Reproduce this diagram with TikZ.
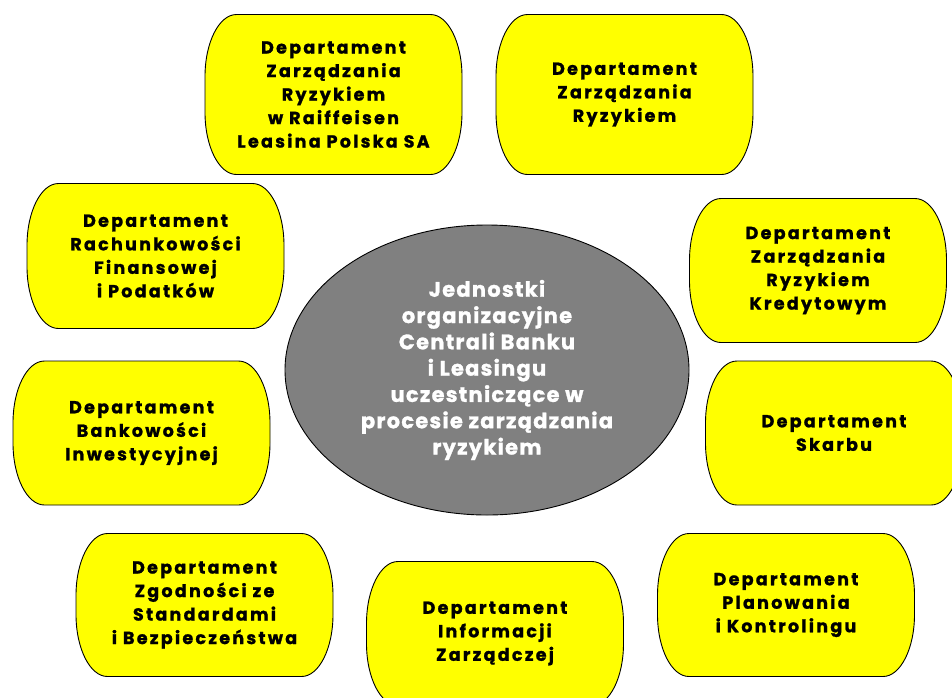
\documentclass[tikz,border=0pt]{standalone}
\usepackage{fontspec}
\setmainfont{Poppins}
\newfontfamily\deptfont[LetterSpace=13,BoldFeatures={FakeBold=1.2}]{Poppins}
\newfontfamily\hubfont[LetterSpace=6,BoldFeatures={FakeBold=1.2}]{Poppins}
\usetikzlibrary{shapes.geometric}
\definecolor{boxyellow}{HTML}{FFFF00}
\definecolor{centergray}{HTML}{808080}
\tikzset{
  dept/.style={
    minimum width=258pt, minimum height=#1, inner sep=0pt, align=center,
    font=\deptfont\bfseries\fontsize{17.5}{23.5}\selectfont, text=black,
    path picture={
      \filldraw[fill=boxyellow, draw=black, line width=0.9pt]
        ([shift={(32pt,-0.5pt)}]path picture bounding box.north west)
        -- ([shift={(-32pt,-0.5pt)}]path picture bounding box.north east)
        arc[start angle=90, end angle=0, x radius=31.5pt, y radius=62pt]
        -- ([shift={(-0.5pt,62.5pt)}]path picture bounding box.south east)
        arc[start angle=0, end angle=-90, x radius=31.5pt, y radius=62pt]
        -- ([shift={(32pt,0.5pt)}]path picture bounding box.south west)
        arc[start angle=270, end angle=180, x radius=31.5pt, y radius=62pt]
        -- ([shift={(0.5pt,-62.5pt)}]path picture bounding box.north west)
        arc[start angle=180, end angle=90, x radius=31.5pt, y radius=62pt]
        -- cycle;
    }},
  dept/.default=145pt,
  hub/.style={
    ellipse, minimum width=404pt, minimum height=290pt, inner sep=0pt,
    fill=centergray, draw=black, line width=0.9pt, align=center, text=white,
    font=\hubfont\bfseries\fontsize{21}{26.3}\selectfont}
}
\begin{document}
\begin{tikzpicture}[x=1pt,y=-1pt]
  \useasboundingbox (0,0) rectangle (952,697);
  \clip (0,0) rectangle (952,697);
  \node[hub] (hub) at (487,370) {Jednostki\\organizacyjne\\Centrali Banku\\i Leasingu\\uczestniczące w\\procesie zarządzania\\ryzykiem};
  \node[dept=161pt] (b1) at (333.5,94.5) {Departament\\Zarządzania\\Ryzykiem\\w Raiffeisen\\Leasina Polska SA};
  \node[dept=161pt] (b2) at (624.5,94.5) {Departament\\Zarządzania\\Ryzykiem};
  \node[dept=146pt] (b3) at (155.5,256) {Departament\\Rachunkowości\\Finansowej\\i Podatków};
  \node[dept] (b4) at (818,270.5) {Departament\\Zarządzania\\Ryzykiem\\Kredytowym};
  \node[dept] (b5) at (141.5,433) {Departament\\Bankowości\\Inwestycyjnej};
  \node[dept] (b6) at (834,433) {Departament\\Skarbu};
  \node[dept=144pt] (b7) at (204.5,605) {Departament\\Zgodności ze\\Standardami\\i Bezpieczeństwa};
  \node[dept] (b8) at (495,633.5) {Departament\\Informacji\\Zarządczej};
  \node[dept=144pt] (b9) at (786,605) {Departament\\Planowania\\i Kontrolingu};
\end{tikzpicture}
\end{document}
